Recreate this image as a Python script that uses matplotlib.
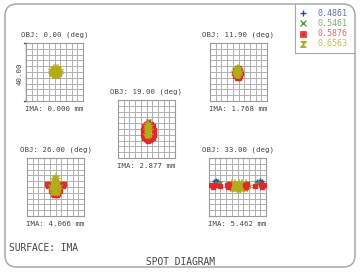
import matplotlib.pyplot as plt
from matplotlib.patches import FancyBboxPatch
import numpy as np

W, H = 360, 273

# wavelengths (um) and their colours / symbols
wavelengths = ['0.4861', '0.5461', '0.5876', '0.6563']
wl_colors = ['#2c4a9c', '#4f9a4f', '#e02a2a', '#b3aa1c']
wl_text_colors = ['#6272a8', '#78b078', '#e06a6a', '#c8bc48']
wl_markers = ['+', 'x', 's', '*']

field_angles = ['0.00', '11.90', '19.00', '26.00', '33.00']
image_heights = ['0.000', '1.768', '2.877', '4.066', '5.462']
box_size = 40.00  # microns

# spot points (microns)
f0_yellow = [(4.0, 0), (3.6, 1.5), (2.5, 2.6), (1.0, 3.0), (-0.5, 2.6), (-1.6, 1.5),
             (-2.0, 0), (-1.6, -1.5), (-0.5, -2.6), (1.0, -3.0), (2.5, -2.6), (3.6, -1.5),
             (2.5, 0), (1.75, 1.3), (0.25, 1.3), (-0.5, 0), (0.25, -1.3), (1.75, -1.3), (1.0, 0)]

f1_red = [(1.7, -0.8), (1.2, 1.4), (0.0, 2.8), (-1.4, 2.8), (-2.6, 1.4), (-3.1, -0.8),
          (-2.6, -3.0), (-1.4, -4.4), (0.0, -4.4), (1.2, -3.0)]
f1_yellow = [(1.1, 0.2), (0.6, 2.2), (-0.7, 3.0), (-2.0, 2.2), (-2.5, 0.2), (-2.0, -1.8),
             (-0.7, -2.6), (0.6, -1.8), (-0.7, 0.2), (-0.7, 1.5), (-0.7, -1.2)]

f2_green = [(1.0, 5.4), (1.8, 5.4)]
f2_red = [(1.4, 4.0), (-0.6, 3.5), (3.4, 3.5), (-2.0, 2.0), (4.8, 2.0), (-2.2, -1.0),
          (5.0, -1.0), (-2.3, -4.0), (5.1, -4.0), (-1.8, -6.5), (0.2, -7.8), (1.4, -8.0),
          (2.6, -7.8), (4.6, -6.5), (1.4, -2.0), (1.4, -6.0), (-0.3, -7.0), (3.1, -7.0)]
f2_yellow = [(1.4, 3.6), (0.2, 2.2), (2.6, 2.2), (0.0, -1.0), (2.8, -1.0), (0.1, -3.8),
             (2.7, -3.8), (1.4, -4.8), (1.4, 0.5), (1.4, -2.5)]

f3_red = [(-6.3, 1.8), (-5.2, 1.0), (-4.8, 2.4), (6.3, 1.8), (5.2, 1.0), (4.8, 2.4),
          (-2.0, -4.8), (0.0, -5.6), (2.0, -4.8), (-1.0, -5.4), (1.0, -5.4), (-3.0, -2.8), (3.0, -2.8)]
f3_yellow = [(0, 7.2), (-0.8, 5.6), (0.8, 5.6), (-2.0, 3.5), (2.0, 3.5), (0, 3.5),
             (-2.3, 1.0), (2.3, 1.0), (0, 1.0), (-2.2, -1.5), (2.2, -1.5), (0, -1.5),
             (-1.5, -3.8), (1.5, -3.8), (0, -4.3)]

f4_blue = [(-16.5, 3.8), (-15.0, 4.5), (-13.5, 4.0), (14.0, 4.0), (15.5, 4.5), (17.0, 4.0)]
f4_green = [(-14.5, 3.0), (-12.5, 2.5), (13.0, 3.0), (15.0, 3.0)]
f4_yellow = [(8.0, 0.5), (6.0, 2.5), (1.0, 3.0), (-4.0, 2.5), (-6.0, 0.5), (-4.0, -1.5),
             (1.0, -2.0), (6.0, -1.5), (1.0, 0.5), (3.5, 0.5), (-1.5, 0.5),
             (3.5, 2.5), (-1.5, 2.5), (3.5, -1.5), (-1.5, -1.5)]
f4_red = [(-7.5, 1.2), (-6.0, 1.8), (-6.5, 0.2),
          (5.0, 1.2), (6.5, 1.8), (6.0, 0.2),
          (-18.5, 1.5), (-17.5, 0.0), (-16.0, 1.5), (-12.0, 1.0),
          (18.5, 1.5), (17.5, 0.0), (16.2, 2.0), (12.0, 1.0)]

spots = [
    [[], [], [], f0_yellow],
    [[], [], f1_red, f1_yellow],
    [[], f2_green, f2_red, f2_yellow],
    [[], [], f3_red, f3_yellow],
    [f4_blue, f4_green, f4_red, f4_yellow],
]
red_on_top = [False, False, False, False, True]

# panel placement in pixels (left, top), box size in pixels
panel_pos = [(26, 43), (210, 43), (118, 100), (27, 158), (209, 158)]
bw, bh = 57, 58

txt = '#444444'
grid_c = '#b0b0b0'
mono = 'DejaVu Sans Mono'

fig = plt.figure(figsize=(W / 100, H / 100), dpi=100)
fig.patch.set_facecolor('white')

bg = fig.add_axes([0, 0, 1, 1])
bg.set_xlim(0, W)
bg.set_ylim(H, 0)
bg.axis('off')

# outer frame and legend box
bg.add_patch(FancyBboxPatch((5, 4), 350, 263, boxstyle='round,pad=0,rounding_size=12',
                            fill=False, ec='#a8a8a8', lw=1.1))
bg.plot([295, 295, 355], [4, 53, 53], color='#a8a8a8', lw=0.8)

legend_markers = ['+', 'x', 's', [(-1, 1), (1, 1), (-1, -1), (1, -1)]]
for i, (wl, c, tc, m) in enumerate(zip(wavelengths, wl_colors, wl_text_colors, legend_markers)):
    yy = 13 + i * 10.3
    if m == 's':
        bg.plot(303, yy, marker='s', ms=3.6, mfc='white', mec=c, mew=1.2)
        bg.plot(303, yy + 0.5, marker='s', ms=1.5, color=c)
    else:
        bg.plot(303, yy, marker=m, ms=4, color=c, mew=1)
    bg.text(318, yy, wl, color=tc, fontsize=6.0, family=mono, va='center', ha='left')

for k in range(5):
    left, top = panel_pos[k]
    ax = fig.add_axes([left / W, 1 - (top + bh) / H, bw / W, bh / H])
    half = box_size / 2
    ax.set_xlim(-half, half)
    ax.set_ylim(-half, half)
    ticks = np.linspace(-half, half, 11)
    ax.set_xticks(ticks)
    ax.set_yticks(ticks)
    ax.tick_params(length=0, labelbottom=False, labelleft=False)
    ax.grid(True, color=grid_c, lw=0.7)
    for s in ax.spines.values():
        s.set_color('#9a9a9a')
        s.set_linewidth(0.8)
    ax.set_facecolor('white')
    for j in range(4):
        pts = spots[k][j]
        if not pts:
            continue
        xs, ys = np.array(pts).T
        z = 3 + j
        if j == 2 and red_on_top[k]:
            z = 8
        if wl_markers[j] == 's':
            ax.plot(xs, ys, ls='none', marker='s', ms=2.8, color=wl_colors[j], zorder=z)
        elif wl_markers[j] == '*':
            ax.plot(xs, ys, ls='none', marker='*', ms=6.0, color=wl_colors[j], mew=0.3, zorder=z)
        else:
            ax.plot(xs, ys, ls='none', marker=wl_markers[j], ms=3.5, mew=1.0,
                    color=wl_colors[j], zorder=z)

    cx = left + bw / 2
    bg.text(cx, top - 8, 'OBJ: %s (deg)' % field_angles[k], fontsize=5.3, family=mono,
            color=txt, ha='center', va='center')
    bg.text(cx, top + bh + 8, 'IMA: %s mm' % image_heights[k], fontsize=5.3, family=mono,
            color=txt, ha='center', va='center')

# scale bar on first panel
sx, sy = panel_pos[0]
bg.plot([sx, sx], [sy, sy + bh], color='#4a4a4a', lw=0.9)
bg.plot([sx - 2, sx + 2], [sy, sy], color='#4a4a4a', lw=0.9)
bg.plot([sx - 2, sx + 2], [sy + bh, sy + bh], color='#4a4a4a', lw=0.9)
bg.text(sx - 6, sy + bh / 2 + 2, '%.2f' % box_size, rotation=90, fontsize=5.3, family=mono,
        color=txt, ha='center', va='center')

bg.text(9, 248, 'SURFACE: IMA', fontsize=6.9, family=mono, color=txt, ha='left', va='center')
bg.text(180, 262, 'SPOT DIAGRAM', fontsize=6.9, family=mono, color=txt, ha='center', va='center')

fig.savefig('out.png', dpi=100)
